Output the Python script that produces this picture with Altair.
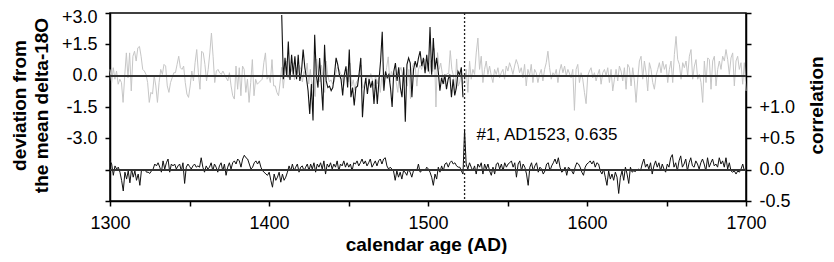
import altair as alt
import pandas as pd
import numpy as np

# ---- master chronology (grey), deviation from mean delta-18O ----
gray_a = [0.3,-0.33,0.38,-0.17,0.22,-0.41,-0.17,-0.33,-1.28,0.0,
          1.09,-0.1,1.09,-0.73,0.93,1.17,0.7,1.33,1.4,0.93,
          0.3,0.22,0.06,-0.33,-1.28,-0.8,-0.88,0.0,-0.49,-1.28,
          -0.33,0.3,0.06,0.54,0.46,-0.49,-0.8,-0.33,-0.1,0.14,
          0.14,0.54,0.93,0.38,0.3,0.46,-0.33,-0.88,-1.04,-0.49,
          0.22,-0.25,0.62,1.25,0.14,-0.65,1.17,1.09,0.54,-0.25,
          0.3,1.09,2.04,0.93,-0.33,0.22,0.3,0.14,0.06,0.22,
          0.06,-0.1,-0.25,0.14,-0.49,-0.96,-1.12,0.46,-0.65,0.38,
          -0.96,0.46,0.3,-0.8,-0.17,-1.28,-0.33,0.77,-0.96,-0.17,
          -0.41,-0.33,-0.25,-0.17,0.62,1.09,-0.17,0.0,-0.33,0.77,
          -0.49,-0.49,-0.8,-0.96]
gray_b = [-0.3,0.4,-0.6,0.2,0.7,-0.1,0.5,0.2,0.6,-0.2,
          0.4,0.1,0.5,0.3,-0.3,0.2,0.0,0.6,-0.4,0.3,
          -0.6,-0.2,-1.0,0.8,0.1,-0.3,0.5,-0.1,-0.8,0.7,
          0.0,-0.3,-0.2,-0.4,-0.3,0.1,0.4,0.3,0.1,0.0,
          -0.5,0.1,0.3,-0.3,0.6,-0.5,-0.2,-0.7,-0.3,-0.2,
          0.1,0.5,-0.6,-0.4,-0.2,0.0,-0.3,0.1,-0.2,-0.5,
          0.0,-0.4,-0.1,-0.8,0.0,-0.6,0.0,0.4,0.9,-0.3,
          0.2,0.0,0.1,-0.3,-0.8,0.2,0.4,0.0,0.3,-0.3,
          -0.5,0.3,-1.1,0.4,0.6,0.4,-0.5,0.3,0.5,0.3,
          0.6,0.8,0.3,0.6,0.1,0.7,0.2,1.3,-1.5,1.1,
          0.3,0.6,0.1,-0.4,0.0,0.1,0.1,1.2,0.3,0.0,
          -0.7,0.8,-0.5,-0.3,0.2,-0.4]
gray_c = [-0.25,0.3,-0.8,0.7,-0.17,0.3,0.06,1.09,1.8,0.3,
          0.93,-0.33,0.3,0.7,0.06,0.46,0.0,-0.33,0.3,0.06,
          0.38,-0.1,0.14,0.3,-0.17,0.46,0.22,0.62,0.38,0.06,
          0.46,0.77,0.54,0.14,0.38,-0.1,0.54,-0.49,0.3,0.0,
          0.54,-0.33,0.3,0.14,-0.33,0.06,0.3,-0.25,0.3,0.62,
          1.17,0.38,-0.17,0.14,0.0,0.3,-0.33,0.22,0.54,0.14,
          0.46,0.0,0.3]
gray_d = [-0.1,0.3,-1.66,0.3,0.54,-0.33,0.14,-0.17,-0.8,-1.34,
          0.0,0.22,0.38,-0.1,0.14,-0.25,0.06,0.3,-0.41,0.14,
          0.3,0.0,0.38,-0.33,0.3,-0.73,-0.17,0.3,-0.25,0.46,
          0.22,-0.25,0.38,-0.65,0.54,0.38,-0.49,0.38,-0.25,-1.28,
          -0.17,0.7,0.93,-0.17,0.7,0.14,-0.73,0.62,0.3,-0.33,
          -0.65,0.0,0.3,0.62,0.14,0.7,0.3,0.54,-0.33,0.3,
          0.7,-0.33,1.01,1.88,0.77,0.54,-0.17,0.62,0.38,0.7,
          0.0,0.93,1.25,-0.17,0.46,0.77,-0.17,0.06,-0.33,-1.28,
          0.7,-0.33,0.85,0.77,-0.65,0.7,0.93,-0.49,0.3,0.7,
          0.3,0.93,0.7,1.25,0.77,0.06,0.85,1.09,-0.49,0.7,
          0.93,0.3,0.62,-0.41,0.62,-0.73]

# ---- sample (black), deviation from mean delta-18O ----
black_vals = [2.9,-0.17,0.85,0.0,1.64,-0.2,1.0,0.05,0.93,-0.17,
              1.0,-0.25,0.2,1.25,0.4,-0.1,-0.72,-1.83,-0.4,-2.15,
              1.96,0.05,-0.57,0.85,-0.4,-1.67,1.48,-0.25,-0.57,-0.5,
              -0.72,-0.57,0.05,0.85,0.53,0.05,-0.17,-0.95,0.05,0.45,
              -0.57,1.25,-1.03,-0.57,-1.43,-0.57,-0.5,0.12,0.85,-1.99,
              -0.72,
              -0.1,-0.88,-0.17,-0.57,-0.25,-1.35,-0.17,-1.35,-0.25,0.7,
              2.1,-0.72,0.2,-0.1,0.05,-0.57,-1.5,0.2,0.6,-0.25,
              0.4,-0.57,-1.03,0.4,-2.2,0.53,0.85,0.6,-1.03,0.3,
              0.7,0.4,0.85,1.17,0.45,0.85,0.12,1.0,0.2,2.33,
              0.05,1.8,0.3,0.85,0.2,-0.72,-0.1,-0.4,0.05,-0.65,
              -0.17,0.05,-1.03,-0.17,-0.95,-0.57,0.2,0.05,0.4,-1.03]

# ---- correlation ----
corr_a = [0.14,0.09,-0.09,0.06,0.01,0.04,-0.04,-0.17,-0.34,-0.04,
          -0.15,-0.02,-0.21,0.01,-0.12,-0.02,-0.17,-0.07,-0.25,0.0,
          -0.02,0.01,-0.04,-0.04,-0.06,-0.02,0.01,0.09,0.06,0.11,
          0.04,-0.04,0.14,0.01,0.11,0.17,-0.04,0.09,0.06,0.09,
          0.01,0.06,0.09,-0.02,0.11,-0.22,0.04,0.09,0.05,0.01,
          0.06,0.09,0.04,0.06,0.04,0.19,0.04,-0.04,0.06,0.01,
          0.04,0.11,-0.02,0.09,0.04,-0.04,0.06,0.11,-0.02,0.09,
          -0.09,0.04,0.11,0.01,0.11,0.14,0.09,0.17,0.14,0.04,
          0.17,0.23,0.19,0.17,0.09,0.01,0.04,0.11,0.14,0.09,
          0.14,0.04,-0.02,-0.04,-0.07,-0.09,-0.04,-0.17,-0.28,-0.07,
          -0.17,-0.12,-0.04,-0.2,-0.07,-0.17,-0.12,-0.04,0.06,-0.02,
          0.09,-0.02,0.04,0.09,-0.04,0.04,0.06,-0.02,0.04,0.09,
          -0.02,0.09,0.01,0.11,-0.04,0.09,0.04,0.11,0.01,0.14,
          -0.07,0.09,0.04,0.11,0.01,0.09,0.04,0.14,-0.02,0.09,
          0.06,0.14,0.04,0.11,0.04,0.09,-0.02,0.11,0.09,0.14,
          0.06,0.11,0.17,0.09,0.14,0.06,0.11,0.17,0.04,0.09,
          0.14,0.06,0.14,0.17,0.09,0.17,0.19,0.06,0.01,0.04,
          0.01,-0.02,-0.17,-0.02,-0.12,-0.04,-0.15,-0.02,-0.04,-0.09,
          0.01,-0.04,-0.12,-0.02,0.01,-0.02,0.09,-0.04,-0.02,0.01,
          -0.02,0.04,0.01,-0.04,-0.12,-0.25,-0.07,-0.15,0.04,-0.04,
          0.06,-0.02,0.09,0.11,0.04,0.11,0.14,0.09,0.11,0.06,
          0.04]
corr_b = [0.04,-0.02,-0.07,0.635]
corr_c = [0.09,0.01,0.11,0.04,-0.02,0.06,-0.07,0.09,0.04,0.11,
          -0.07,0.09,0.01,0.09,-0.02,-0.09,0.04,-0.07,0.09,0.11,
          0.01,0.09,-0.02,0.11,0.04,0.09,0.11,0.14,0.04,0.11,
          -0.12,0.09,0.14,-0.02,0.09,0.04,-0.07,-0.25,0.04,0.11,
          -0.02,0.06,0.11,-0.04,0.04,0.01,-0.07,-0.02,0.09,0.11,
          -0.02,0.06,0.11,0.17,0.09,0.19,0.04,-0.04,-0.02,0.04,
          -0.09,0.04,0.01,-0.02,-0.07,0.04,0.11,0.09,0.04,-0.04,
          -0.09,0.04,0.09,0.11,0.14,0.09,0.14,0.04,0.11,0.09,
          -0.02,-0.07,0.01,-0.12,-0.25,-0.02,-0.15,-0.07,-0.17,-0.04,
          -0.12,-0.38,-0.12,-0.02,-0.17,0.04,-0.07,-0.22,0.04,-0.04,
          -0.02,-0.03,0.0,0.01,-0.02,0.09,0.17,0.04,0.09,0.01,
          0.11,-0.07,0.06,0.14,0.04,0.11,-0.02,0.09,0.01,-0.04,
          0.09,0.04,0.19,0.24,0.04,0.11,-0.02,0.14,0.22,0.04,
          0.09,0.17,-0.02,0.11,0.19,0.06,0.04,0.14,0.09,0.01,
          0.11,0.17,0.09,-0.02,0.19,0.04,0.11,0.17,0.06,0.09,
          0.04,0.19,0.09,0.14,0.04,0.19,0.01,0.11,-0.02,-0.04,
          -0.02,-0.07,-0.02,-0.04,0.01,0.09,-0.02]

# annotation (best match)
match_year = [1523]
match_r = [0.635]
match_rank = [1]


def seg(vals, start, end, col):
    return pd.DataFrame({"year": np.linspace(start, end, len(vals)), col: vals})


gray_df = pd.concat([seg(gray_a, 1300, 1406, "v"), seg(gray_b, 1407, 1522, "v"),
                     seg(gray_c, 1523, 1588, "v"), seg(gray_d, 1590, 1700, "v")])
black_df = seg(black_vals, 1408, 1522, "v")
corr_df = pd.concat([seg(corr_a, 1300, 1519, "c"), seg(corr_b, 1520, 1523, "c"),
                     seg(corr_c, 1524, 1699, "c")])
ann_df = pd.DataFrame({"year": match_year, "c": match_r,
                       "label": [f"#{k}, AD{y}, {r:.3f}" for k, y, r in zip(match_rank, match_year, match_r)]})

FONT = "Liberation Sans"

x_axis = alt.Axis(values=list(range(1300, 1701, 50)), format="d",
                  labelExpr="datum.value % 100 == 0 ? datum.label : ''",
                  labelFlush=False, labelOverlap=False,
                  title="calendar age (AD)", labelPadding=8,
                  titleBaseline="alphabetic", titleY=49, titleX=316)
x_scale = alt.Scale(domain=[1300, 1700], nice=False, zero=False)

left_axis = alt.Axis(orient="left", values=[3, 1.5, 0, -1.5, -3, -4.5, -6],
                     labelOverlap=False, labelSeparation=0, labelBound=False,
                     labelExpr="datum.value > 0 ? '+' + format(datum.value, '.1f') : (datum.value == 0 ? '0.0' : (datum.value >= -3 ? '-' + format(-datum.value, '.1f') : ''))",
                     labelOffset={"condition": {"test": "datum.value == 3", "value": 4}, "value": 0},
                     title=["deviation from", "the mean delta-18O"],
                     titleAngle=270, titleBaseline="top", titleAlign="center",
                     titleX=-100, titleY=92, titleLineHeight=22)
yL_scale = alt.Scale(domain=[-6, 3], nice=False, zero=False)

right_axis = alt.Axis(orient="right", values=[2.5, 2, 1.5, 1, 0.5, 0, -0.5],
                      labelOverlap=False, labelSeparation=0, labelBound=False,
                      labelExpr="datum.value > 1 ? '' : (datum.value > 0 ? '+' + format(datum.value, '.1f') : (datum.value == 0 ? '0.0' : '-' + format(-datum.value, '.1f')))",
                      title="correlation", titleAngle=270, titleBaseline="alphabetic",
                      titleAlign="center", titleX=76, titleY=92)
yR_scale = alt.Scale(domain=[-0.5, 2.5], nice=False, zero=False)

gray_line = alt.Chart(gray_df).mark_line(color="#c6c6c6", strokeWidth=1).encode(
    x=alt.X("year:Q", scale=x_scale, axis=x_axis),
    y=alt.Y("v:Q", scale=yL_scale, axis=left_axis))
black_line = alt.Chart(black_df).mark_line(color="#111111", strokeWidth=1.1).encode(
    x=alt.X("year:Q", scale=x_scale, axis=x_axis),
    y=alt.Y("v:Q", scale=yL_scale, axis=left_axis))
zero_top = alt.Chart(gray_df).mark_rule(color="#333333", strokeWidth=1).encode(
    y=alt.Y(datum=0, type="quantitative", scale=yL_scale, axis=left_axis))
vline = alt.Chart(ann_df).mark_rule(color="#222222", strokeWidth=1.3, strokeDash=[2, 2]).encode(
    x=alt.X("year:Q", scale=x_scale, axis=x_axis))

upper = alt.layer(gray_line, black_line, zero_top, vline)

corr_line = alt.Chart(corr_df).mark_line(color="#111111", strokeWidth=1).encode(
    x=alt.X("year:Q", scale=x_scale, axis=x_axis),
    y=alt.Y("c:Q", scale=yR_scale, axis=right_axis))
zero_bot = alt.Chart(corr_df).mark_rule(color="#333333", strokeWidth=1).encode(
    y=alt.Y(datum=0, type="quantitative", scale=yR_scale, axis=right_axis))
ann = alt.Chart(ann_df).mark_text(align="left", baseline="middle", dx=12, dy=5,
                                  fontSize=17, font=FONT, color="black").encode(
    x=alt.X("year:Q", scale=x_scale, axis=x_axis),
    y=alt.Y("c:Q", scale=yR_scale, axis=right_axis), text="label:N")

lower = alt.layer(corr_line, zero_bot, ann)

chart = alt.layer(upper, lower).resolve_scale(y="independent").properties(
    width=636, height=188,
    autosize=alt.AutoSizeParams(type="none"),
    padding={"left": 102, "top": 5, "right": 80, "bottom": 53},
    background="white",
).configure_view(stroke="black", strokeWidth=1.5).configure_axis(
    labelFont=FONT, labelFontSize=18, labelColor="black",
    titleFont=FONT, titleFontSize=19, titleFontWeight="bold", titleColor="black",
    domainColor="black", domainWidth=1.5, tickColor="black", tickWidth=1.5,
    tickSize=5, labelPadding=8, grid=False,
)

chart.save("out.html", embed_options={"renderer": "svg", "actions": False})
